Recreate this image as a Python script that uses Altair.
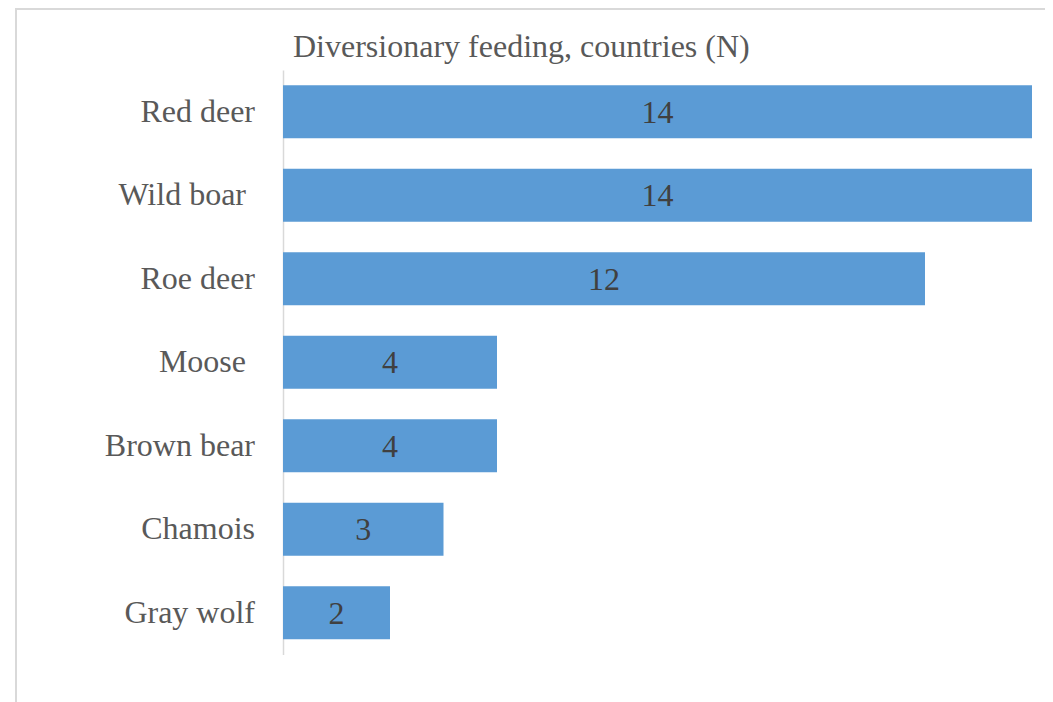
import altair as alt
import pandas as pd

title_text = "Diversionary feeding, countries (N)"
species = ["Red deer", "Wild boar ", "Roe deer", "Moose ", "Brown bear", "Chamois", "Gray wolf"]
countries = [14, 14, 12, 4, 4, 3, 2]

df = pd.DataFrame({"species": species, "n": countries})
df["mid"] = df["n"] / 2

FONT = "Liberation Serif"

y_scale = alt.Scale(paddingInner=0.365, paddingOuter=0.1825)

bars = alt.Chart(df).mark_bar(color="#5B9BD5").encode(
    x=alt.X("n:Q", scale=alt.Scale(domain=[0, 14], nice=False), axis=None),
    y=alt.Y(
        "species:N",
        sort=species,
        scale=y_scale,
        axis=alt.Axis(
            title=None,
            ticks=False,
            labels=False,
            domainColor="#d9d9d9",
            domainWidth=1.5,
            grid=False,
        ),
    ),
)

values = alt.Chart(df).mark_text(
    font=FONT, fontSize=32, color="#404040", baseline="middle", align="center", dy=1
).encode(
    x=alt.X("mid:Q"),
    y=alt.Y("species:N", sort=species),
    text="n:Q",
)

# category labels (labels written with a trailing space sit a little further left)
cat_plain = alt.Chart(df).transform_filter("!test(/ $/, datum.species)").mark_text(
    font=FONT, fontSize=32, color="#595959", baseline="middle", align="right"
).encode(
    x=alt.value(-28),
    y=alt.Y("species:N", sort=species),
    text="species:N",
)
cat_space = alt.Chart(df).transform_filter("test(/ $/, datum.species)").mark_text(
    font=FONT, fontSize=32, color="#595959", baseline="middle", align="right"
).encode(
    x=alt.value(-37),
    y=alt.Y("species:N", sort=species),
    text="species:N",
)

frame_data = alt.Data(values=[{"k": 1}])
left_frame = alt.Chart(frame_data).mark_rule(color="#d9d9d9", strokeWidth=2).encode(
    x=alt.value(-267), x2=alt.value(-267), y=alt.value(-62), y2=alt.value(700)
)
top_frame = alt.Chart(frame_data).mark_rule(color="#d9d9d9", strokeWidth=2).encode(
    x=alt.value(-268), x2=alt.value(800), y=alt.value(-61), y2=alt.value(-61)
)

title_mark = alt.Chart(alt.Data(values=[{"t": title_text}])).mark_text(
    font=FONT, fontSize=32, color="#595959", align="left", baseline="alphabetic"
).encode(
    x=alt.value(10), y=alt.value(-13), text="t:N"
)

chart = alt.layer(left_frame, top_frame, title_mark, bars, values, cat_plain, cat_space).properties(
    width=749,
    height=584.5,
    background="white",
    autosize=alt.AutoSizeParams(type="none"),
    padding={"left": 275, "top": 62, "right": 13, "bottom": 47},
).configure_view(stroke=None)

chart.save("out.html", embed_options={"renderer": "svg", "actions": False})
